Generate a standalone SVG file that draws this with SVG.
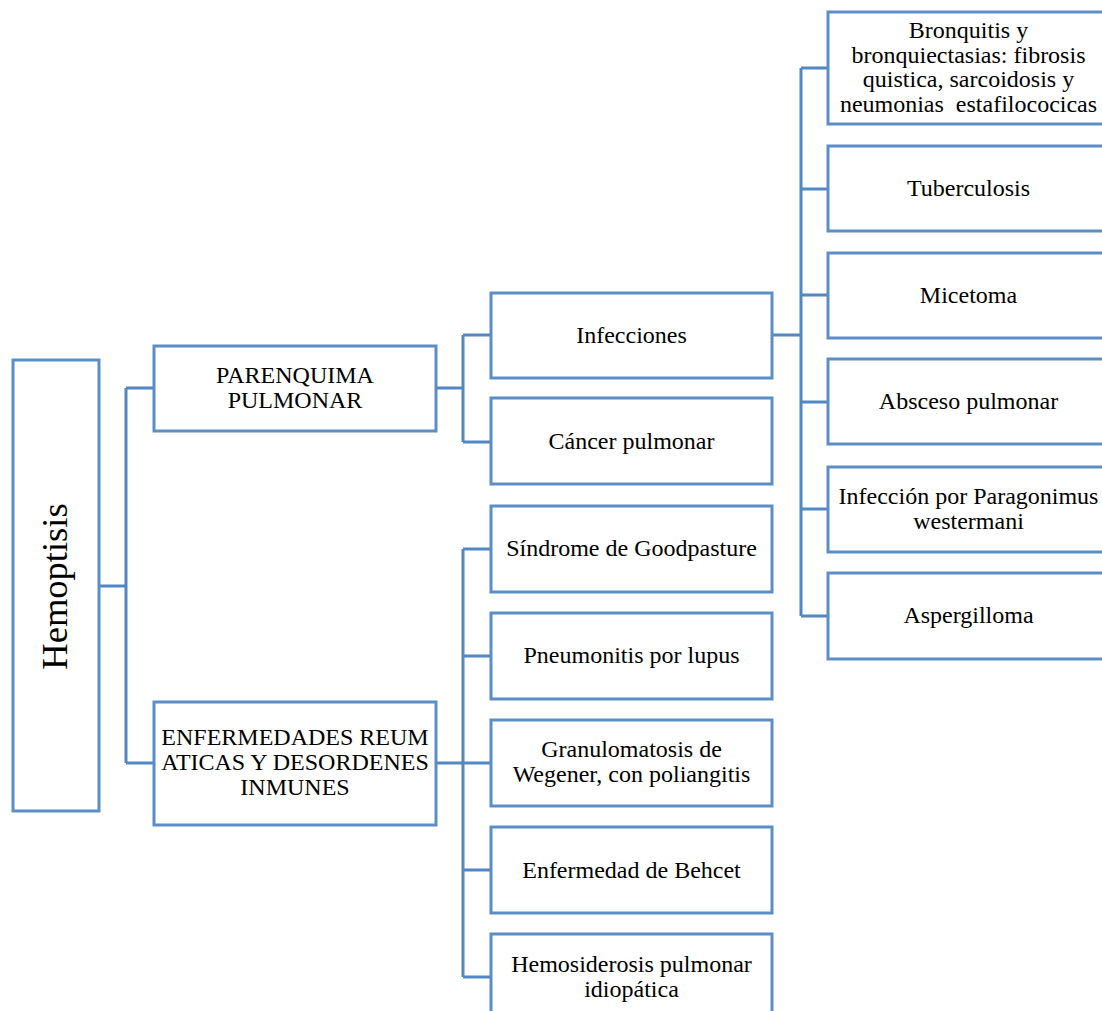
<svg xmlns="http://www.w3.org/2000/svg" width="1102" height="1011" viewBox="0 0 1102 1011">
<style>
.box{fill:#fff;stroke:#5b8ec8;stroke-width:3}
.c{fill:none;stroke:#5287c3;stroke-width:3}
text{font-family:"Liberation Serif","Times New Roman",serif;font-size:24px;fill:#000;text-anchor:middle}
.big{font-size:36.5px}
</style>
<rect width="1102" height="1011" fill="#fff"/>
<g id="connectors">
<path class="c" d="M99,586 H126 M126,388 V763 M126,388 H154 M126,763 H154"/>
<path class="c" d="M436,388 H463 M463,335 V442 M463,335 H491 M463,442 H491"/>
<path class="c" d="M436,763 H463 M463,549 V977 M463,549 H491 M463,656 H491 M463,763 H491 M463,870 H491 M463,977 H491"/>
<path class="c" d="M772,335 H801 M801,68 V616 M801,68 H828 M801,189 H828 M801,295 H828 M801,402 H828 M801,509 H828 M801,616 H828"/>
</g>
<g id="hemoptisis"><rect class="box" x="13" y="360" width="86" height="451"/><text class="big" transform="translate(67,586.5) rotate(-90)">Hemoptisis</text></g>
<g id="parenquima"><rect class="box" x="154" y="346" width="282" height="85"/><text x="295" y="383">PARENQUIMA</text><text x="295" y="408">PULMONAR</text></g>
<g id="enfermedades"><rect class="box" x="154" y="702" width="282" height="123"/><text x="295" y="745">ENFERMEDADES REUM</text><text x="295" y="770">ATICAS Y DESORDENES</text><text x="295" y="795">INMUNES</text></g>
<g id="infecciones"><rect class="box" x="491" y="293" width="281" height="85"/><text x="631.5" y="343">Infecciones</text></g>
<g id="cancer"><rect class="box" x="491" y="398" width="281" height="86"/><text x="631.5" y="449">Cáncer pulmonar</text></g>
<g id="goodpasture"><rect class="box" x="491" y="506" width="281" height="86"/><text x="631.5" y="556">Síndrome de Goodpasture</text></g>
<g id="lupus"><rect class="box" x="491" y="613" width="281" height="86"/><text x="631.5" y="663">Pneumonitis por lupus</text></g>
<g id="wegener"><rect class="box" x="491" y="720" width="281" height="86"/><text x="631.5" y="757">Granulomatosis de</text><text x="631.5" y="782">Wegener, con poliangitis</text></g>
<g id="behcet"><rect class="box" x="491" y="827" width="281" height="86"/><text x="631.5" y="878">Enfermedad de Behcet</text></g>
<g id="hemosiderosis"><rect class="box" x="491" y="934" width="281" height="86"/><text x="631.5" y="972">Hemosiderosis pulmonar</text><text x="631.5" y="997">idiopática</text></g>
<g id="bronquitis"><rect class="box" x="828" y="12" width="281" height="112"/><text x="968.5" y="37.5">Bronquitis y</text><text x="968.5" y="62.5">bronquiectasias: fibrosis</text><text x="968.5" y="87">quistica, sarcoidosis y</text><text x="968.5" y="111.5" xml:space="preserve">neumonias  estafilococicas</text></g>
<g id="tuberculosis"><rect class="box" x="828" y="146" width="281" height="85"/><text x="968.5" y="196">Tuberculosis</text></g>
<g id="micetoma"><rect class="box" x="828" y="253" width="281" height="85"/><text x="968.5" y="303">Micetoma</text></g>
<g id="absceso"><rect class="box" x="828" y="359" width="281" height="85"/><text x="968.5" y="409">Absceso pulmonar</text></g>
<g id="paragonimus"><rect class="box" x="828" y="467" width="281" height="85"/><text x="968.5" y="503.5">Infección por Paragonimus</text><text x="968.5" y="528.5">westermani</text></g>
<g id="aspergilloma"><rect class="box" x="828" y="573" width="281" height="86"/><text x="968.5" y="623">Aspergilloma</text></g>
</svg>
